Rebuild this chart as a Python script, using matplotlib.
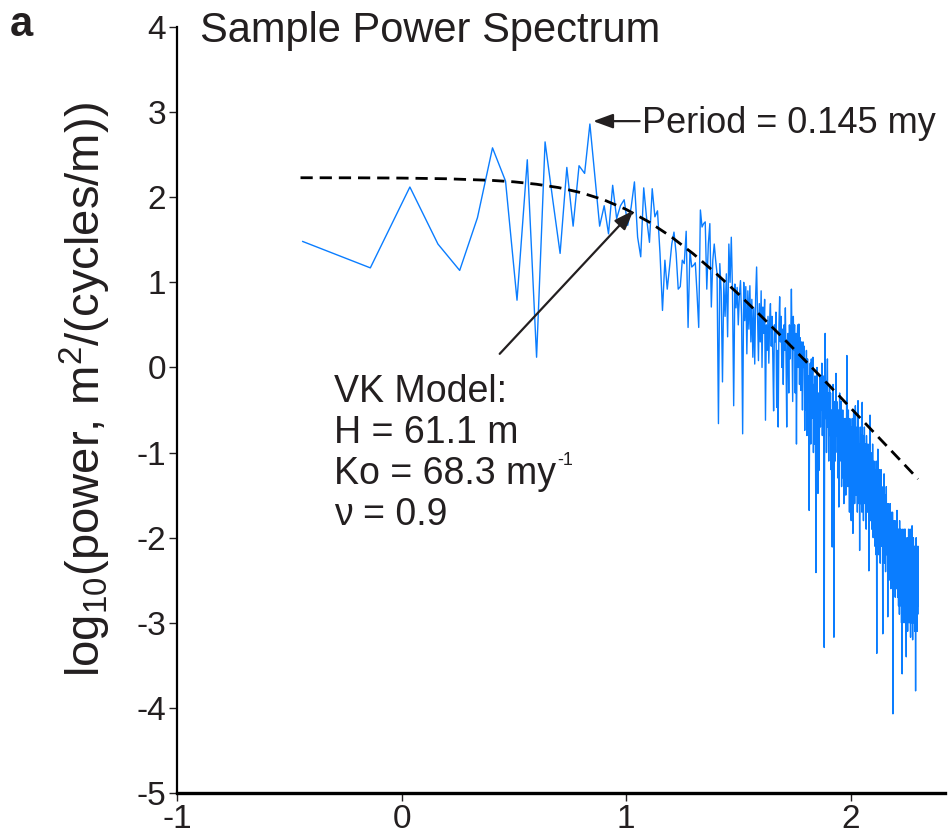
import numpy as np
import matplotlib
matplotlib.use('Agg')
import matplotlib.pyplot as plt

# 目盛りのマイナスはハイフンのまま / 数式部分も本文フォントで
plt.rcParams['axes.unicode_minus'] = False
plt.rcParams['mathtext.default'] = 'regular'
plt.rcParams['font.family'] = ['Liberation Sans', 'DejaVu Sans']

NARROW = ['Liberation Sans Narrow', 'Liberation Sans', 'DejaVu Sans']
INK = '#231f20'
BLUE = '#0a7dff'

# record length in my (frequency step = 1 / record_my cycles/my)
record_my = 2.755

# log10 power, harmonics 1..70 (sparse part, read point by point)
power_low = [
    1.48, 1.17, 2.12, 1.45, 1.14, 1.76, 2.58, 2.19, 0.79, 2.44,
    0.12, 2.65, 1.96, 1.34, 2.35, 1.66, 2.37, 2.28, 2.86, 2.24,
    1.66, 1.90, 1.57, 2.14, 1.75, 1.90, 1.97, 1.67, 1.88, 2.18,
    1.53, 1.30, 2.11, 1.75, 1.47, 2.10, 1.77, 1.84, 1.34, 0.67,
    1.26, 0.92, 1.18, 1.45, 1.59, 1.34, 0.92, 0.95, 1.26, 1.22,
    1.60, 0.47, 1.37, 1.18, 1.20, 1.23, 0.87, 0.47, 1.85, 1.65,
    1.69, 1.71, 0.92, 1.45, 1.69, 0.71, 1.26, 1.45, 1.26, 1.10,
]

# harmonics 71..250
power_mid = [
    -0.66, 1.22, 0.90, -0.17, 1.00, 0.60, 1.10, 0.36, 1.45, 1.00,
    1.53, 0.90, -0.45, 0.98, 0.70, 0.94, 0.50, 0.85, 1.02, 0.60,
    -0.78, 1.00, 0.55, 0.95, 0.16, 0.90, 0.45, 0.96, 0.30, 0.80,
    0.12, 0.70, 0.04, 0.85, 1.18, 0.60, 0.08, 0.75, 0.30, 0.90,
    0.00, 0.71, 0.40, 0.80, -0.62, 0.50, 0.20, 0.60, 0.05, 0.55,
    0.75, 0.25, 0.60, 0.10, -0.51, 0.50, 0.30, 0.65, -0.47, 0.20,
    -0.70, 0.50, 0.83, 0.30, 0.60, 0.00, 0.45, -0.20, 0.50, 0.20,
    0.70, 0.10, -0.70, 0.30, 0.40, -0.30, 0.50, 0.10, 0.35, 0.92,
    0.30, -0.40, 0.60, 0.20, 0.50, -0.30, 0.40, -0.90, 0.30, 0.50,
    0.00, 0.51, -0.20, 0.35, -0.27, 0.30, 0.10, -0.50, 0.30, 0.00,
    0.25, -0.74, 0.10, -0.50, 0.20, -0.80, 0.10, -0.40, -0.10, -1.68,
    -0.30, 0.05, -0.90, 0.10, -0.60, -0.10, 0.12, -1.00, -0.20, -0.90,
    -0.10, -0.70, -2.41, -0.40, 0.00, -1.10, -1.48, -0.30, -1.21, -0.60,
    -0.10, -0.70, -0.20, -0.50, 0.05, -0.80, -0.30, -0.10, -0.90, -3.29,
    -0.50, 0.40, -0.60, -0.20, -1.00, -0.30, 0.10, -0.70, -0.30, -1.10,
    -0.40, -0.20, -0.80, -0.30, -1.20, -0.50, -1.76, -2.11, -0.60, -0.20,
    -0.90, -3.17, -0.80, -0.40, -1.10, -0.50, -0.07, -0.80, -0.40, -1.00,
    -0.60, -1.30, -0.50, -1.64, -0.70, -0.30, -1.10, -0.60, -0.90, -0.40,
]

# harmonics 251..551 (Nyquist)
power_high = [
    -1.40, -0.70, -1.10, -0.50, -1.30, -0.80, -1.60, -0.60, -1.00, -1.20,
    -0.60, -1.50, -0.90, -0.60, 0.14, -1.10, -0.80, -1.40, -0.50, -1.20,
    -0.90, -1.70, -0.60, -1.10, -0.80, -1.50, -1.80, -0.70, -1.20, -0.60,
    -1.30, -1.95, -0.90, -0.50, -1.40, -1.00, -1.60, -0.80, -0.45, -0.60,
    -1.50, -0.90, -1.30, -0.70, -1.70, -1.10, -0.39, -1.40, -1.00, -1.60,
    -0.90, -2.15, -1.00, -0.70, -1.60, -0.90, -1.30, -0.80, -1.70, -0.41,
    -1.10, -1.50, -0.80, -1.80, -1.00, -1.40, -0.70, -1.20, -1.60, -0.90,
    -1.50, -1.10, -1.90, -0.80, -1.30, -1.00, -1.70, -1.20, -0.90, -1.60,
    -1.10, -2.39, -1.40, -1.00, -1.70, -0.56, -1.30, -1.80, -1.00, -1.50,
    -1.20, -1.90, -1.10, -1.60, -0.90, -1.40, -2.00, -1.20, -1.70, -1.10,
    -1.60, -1.30, -2.10, -1.20, -1.80, -1.40, -2.20, -1.10, -1.70, -3.36,
    -1.50, -1.90, -1.30, -0.96, -1.80, -1.40, -2.20, -1.50, -1.20, -2.00,
    -1.60, -1.30, -2.30, -1.50, -1.90, -1.20, -1.70, -2.10, -1.40, -1.80,
    -1.50, -2.20, -3.13, -1.60, -1.90, -1.40, -2.00, -1.25, -1.80, -2.30,
    -1.60, -2.00, -1.50, -2.40, -1.70, -1.90, -1.40, -2.20, -1.80, -1.60,
    -2.10, -1.70, -2.93, -1.80, -2.30, -1.60, -2.00, -2.50, -1.70, -2.10,
    -1.80, -2.40, -1.60, -2.20, -1.90, -2.60, -1.70, -2.10, -2.30, -1.80,
    -2.00, -2.50, -1.70, -2.20, -4.07, -1.90, -2.40, -1.80, -2.60, -2.00,
    -2.30, -1.80, -2.50, -2.00, -2.70, -1.90, -2.20, -2.40, -1.80, -2.60,
    -2.10, -2.30, -1.68, -2.50, -2.00, -2.70, -1.90, -2.40, -2.20, -2.80,
    -1.90, -2.50, -2.20, -2.90, -1.80, -2.40, -2.70, -2.00, -2.80, -2.30,
    -1.90, -2.60, -2.20, -3.00, -2.00, -2.50, -3.60, -2.10, -2.70, -1.90,
    -2.40, -2.80, -2.00, -2.60, -2.30, -3.00, -1.90, -2.50, -2.70, -2.10,
    -2.60, -1.90, -2.80, -2.30, -2.50, -3.00, -3.40, -2.10, -2.70, -2.40,
    -2.00, -2.80, -2.40, -3.10, -2.10, -2.60, -2.30, -2.90, -1.90, -2.70,
    -2.40, -3.00, -2.00, -2.70, -2.50, -2.90, -1.90, -2.60, -3.17, -2.30,
    -2.80, -2.00, -2.60, -3.00, -2.40, -2.70, -1.86, -2.90, -2.50, -3.20,
    -2.20, -2.80, -2.50, -2.00, -3.00, -2.60, -2.40, -2.90, -2.10, -2.70,
    -2.50, -3.10, -2.20, -2.80, -2.60, -3.80, -2.30, -2.90, -2.00, -2.70,
    -3.00, -2.30, -2.80, -2.20, -3.10, -2.60, -2.40, -2.90, -2.10, -2.80,
    -2.40,
]

# VK model curve
vk_logf = [-0.45, -0.2, 0.0, 0.2, 0.4, 0.5, 0.6, 0.7, 0.8, 0.9, 1.0, 1.1,
           1.2, 1.3, 1.4, 1.5, 1.6, 1.7, 1.8, 1.9, 2.0, 2.1, 2.2, 2.3]
vk_power = [2.229, 2.228, 2.225, 2.217, 2.198, 2.181, 2.153, 2.113, 2.053,
            1.970, 1.857, 1.712, 1.537, 1.333, 1.106, 0.863, 0.607, 0.343,
            0.073, -0.200, -0.476, -0.754, -1.032, -1.311]

power = np.array(power_low + power_mid + power_high)
freq = np.arange(1, len(power) + 1) / record_my   # cycles/my

fig = plt.figure(figsize=(9.49, 8.35), dpi=100)
ax = fig.add_axes([177 / 949, 1 - 793 / 835, 768 / 949, 766 / 835])

ax.plot(np.log10(freq), power, color=BLUE, lw=1.0, zorder=2)
ax.plot(vk_logf, vk_power, color='black', lw=2.0, ls=(0, (4.4, 2.5)), zorder=3)

ax.set_xlim(-1, 2.42)
ax.set_ylim(-5, 4)
ax.set_xticks([-1, 0, 1, 2])
ax.set_yticks(range(-5, 5))

for s in ['top', 'right']:
    ax.spines[s].set_visible(False)
ax.spines['left'].set_linewidth(1.6)
ax.spines['bottom'].set_linewidth(2.4)
ax.tick_params(direction='out', length=6, width=1.0, labelsize=24, pad=2, colors=INK)
for lab in ax.get_xticklabels() + ax.get_yticklabels():
    lab.set_family(NARROW)

# 矢印と注記
head = dict(arrowstyle='-|>,head_length=0.6,head_width=0.22', color=INK,
            lw=1.6, shrinkA=0, shrinkB=0, mutation_scale=20)
ax.annotate('', xy=(0.853, 2.894), xytext=(1.06, 2.894), arrowprops=head)
ax.text(1.07, 2.75, 'Period = 0.145 my', fontsize=26, color=INK, va='baseline')

ax.annotate('', xy=(1.033, 1.845), xytext=(0.437, 0.16), arrowprops=head)
vk_lines = ['VK Model:', 'H = 61.1 m', 'Ko = 68.3 my', '\u03bd = 0.9']
vk_txt = []
for i, s in enumerate(vk_lines):
    vk_txt.append(ax.text(-0.302, -0.41 - 0.482 * i, s, fontsize=27,
                          color=INK, va='baseline'))
# 小さい上付き "-1" を "my" の右肩に
ax.annotate('-1', xy=(1.0, 1.0), xycoords=vk_txt[2], xytext=(1, 3),
            textcoords='offset points', fontsize=13, color=INK,
            ha='left', va='top')

fig.text(200 / 949, 1 - 42 / 835, 'Sample Power Spectrum', fontsize=30,
         color=INK, va='baseline')
fig.text(10 / 949, 1 - 36 / 835, 'a', fontsize=30, fontweight='bold',
         family=NARROW, color=INK, va='baseline')
fig.text(85 / 949, 0.533, r'log$_{10}$(power, m$^{2}$/(cycles/m))',
         rotation=90, fontsize=34, color=INK, ha='center', va='center')

fig.savefig('out.png', dpi=100)
